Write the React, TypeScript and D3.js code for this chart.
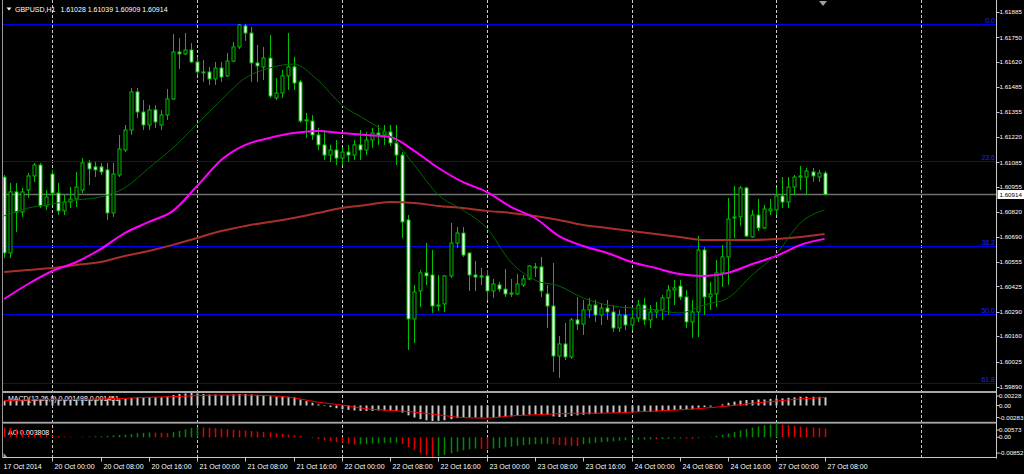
import React from "react";
import * as d3 from "d3";

// ---------- DATA ----------
const firstBar = -8; // 17 Oct 16:00 (index 0 = 20 Oct 00:00)
const opens = [
  1.61007, 1.60603, 1.60928, 1.60821, 1.60938, 1.61013, 1.61071, 1.60853,
  1.61023, 1.60922, 1.60827, 1.60874, 1.60890, 1.60938, 1.61082, 1.61061, 1.61061, 1.61045, 1.60816, 1.61018,
  1.61151, 1.61257, 1.61460, 1.61353, 1.61284, 1.61364, 1.61284, 1.61337, 1.61422, 1.61672, 1.61662, 1.61683, 1.61619,
  1.61566, 1.61566, 1.61529, 1.61587, 1.61545, 1.61624, 1.61699, 1.61811, 1.61773, 1.61614, 1.61593, 1.61640, 1.61428, 1.61454, 1.61545, 1.61593, 1.61513,
  1.61311, 1.61305, 1.61231, 1.61178, 1.61124, 1.61151,
  1.61108, 1.61140, 1.61124, 1.61178, 1.61151, 1.61204, 1.61241, 1.61231, 1.61247, 1.61188,
  1.61124, 1.60779, 1.60252, 1.60401, 1.60497, 1.60486,
  1.60321, 1.60332, 1.60481, 1.60656, 1.60709, 1.60603, 1.60486, 1.60481, 1.60481,
  1.60401, 1.60433, 1.60411, 1.60390, 1.60385, 1.60433, 1.60465, 1.60529,
  1.60529, 1.60385, 1.60321, 1.60055, 1.60119, 1.60050, 1.60247,
  1.60225, 1.60300, 1.60326, 1.60273, 1.60310, 1.60289, 1.60204, 1.60273, 1.60220, 1.60257, 1.60326, 1.60247, 1.60289, 1.60300, 1.60364, 1.60406,
  1.60427, 1.60369, 1.60236, 1.60289, 1.60619, 1.60369, 1.60385, 1.60497, 1.60582,
  1.60789, 1.60795, 1.60949, 1.60688, 1.60805, 1.60736, 1.60827, 1.60832, 1.60906, 1.60874, 1.60954, 1.61007, 1.61007, 1.61034, 1.61007, 1.61028,
];
const highs = [
  1.61018, 1.60975, 1.60975, 1.60949, 1.61029, 1.61082, 1.61082, 1.60938,
  1.61045, 1.60975, 1.60912, 1.60954, 1.61034, 1.61108, 1.61098, 1.61087, 1.61082, 1.61082, 1.61082, 1.61231,
  1.61284, 1.61481, 1.61481, 1.61417, 1.61390, 1.61390, 1.61364, 1.61475, 1.61768, 1.61747, 1.61773, 1.61720, 1.61646,
  1.61630, 1.61593, 1.61619, 1.61619, 1.61667, 1.61726, 1.61821, 1.61821, 1.61805, 1.61710, 1.61699, 1.61763, 1.61534, 1.61577, 1.61773, 1.61646, 1.61523,
  1.61348, 1.61337, 1.61268, 1.61257, 1.61178, 1.61204,
  1.61162, 1.61178, 1.61204, 1.61257, 1.61247, 1.61268, 1.61284, 1.61284, 1.61284, 1.61284,
  1.61140, 1.60805, 1.60433, 1.60513, 1.60656, 1.60619,
  1.60486, 1.60486, 1.60763, 1.60741, 1.60741, 1.60603, 1.60560, 1.60523, 1.60513,
  1.60465, 1.60449, 1.60518, 1.60465, 1.60491, 1.60486, 1.60539, 1.60550,
  1.60582, 1.60433, 1.60550, 1.60161, 1.60231, 1.60257, 1.60369,
  1.60353, 1.60364, 1.60353, 1.60337, 1.60353, 1.60326, 1.60300, 1.60326, 1.60300, 1.60353, 1.60364, 1.60326, 1.60342, 1.60380, 1.60433, 1.60459,
  1.60459, 1.60406, 1.60353, 1.60693, 1.60635, 1.60449, 1.60566, 1.60646, 1.60896,
  1.60959, 1.60959, 1.60954, 1.60832, 1.60890, 1.60858, 1.60890, 1.60949, 1.61007, 1.61007, 1.61018, 1.61066, 1.61055, 1.61055, 1.61045, 1.61039,
];
const lows = [
  1.60576, 1.60576, 1.60715, 1.60795, 1.60896, 1.60981, 1.60842, 1.60832,
  1.60858, 1.60805, 1.60805, 1.60842, 1.60848, 1.60922, 1.60965, 1.61007, 1.61018, 1.60779, 1.60795, 1.61007,
  1.61140, 1.61231, 1.61321, 1.61257, 1.61257, 1.61268, 1.61257, 1.61311, 1.61417, 1.61582, 1.61656, 1.61614, 1.61550,
  1.61513, 1.61497, 1.61497, 1.61513, 1.61539, 1.61619, 1.61688, 1.61731, 1.61513, 1.61513, 1.61523, 1.61428, 1.61417, 1.61428, 1.61470, 1.61470, 1.61295,
  1.61215, 1.61204, 1.61151, 1.61098, 1.61087, 1.61071,
  1.61071, 1.61087, 1.61098, 1.61098, 1.61124, 1.61162, 1.61178, 1.61178, 1.61172, 1.61071,
  1.60683, 1.60087, 1.60124, 1.60316, 1.60433, 1.60284,
  1.60295, 1.60289, 1.60470, 1.60630, 1.60582, 1.60401, 1.60401, 1.60433, 1.60353,
  1.60364, 1.60396, 1.60369, 1.60369, 1.60380, 1.60422, 1.60459, 1.60475,
  1.60369, 1.60204, 1.59970, 1.59938, 1.60034, 1.60039, 1.60193,
  1.60167, 1.60257, 1.60236, 1.60220, 1.60247, 1.60183, 1.60183, 1.60193, 1.60193, 1.60236, 1.60220, 1.60204, 1.60257, 1.60247, 1.60273, 1.60326,
  1.60353, 1.60204, 1.60151, 1.60156, 1.60273, 1.60300, 1.60316, 1.60422, 1.60433,
  1.60683, 1.60747, 1.60688, 1.60683, 1.60720, 1.60731, 1.60805, 1.60805, 1.60842, 1.60842, 1.60912, 1.60938, 1.60912, 1.60981, 1.60981, 1.60909,
];
const closes = [
  1.60603, 1.60928, 1.60821, 1.60928, 1.61013, 1.61071, 1.60853, 1.60901,
  1.60922, 1.60827, 1.60874, 1.60890, 1.60954, 1.61082, 1.61050, 1.61045, 1.61034, 1.60816, 1.61023, 1.61156,
  1.61257, 1.61460, 1.61353, 1.61284, 1.61364, 1.61300, 1.61337, 1.61422, 1.61672, 1.61662, 1.61683, 1.61619, 1.61566,
  1.61563, 1.61529, 1.61587, 1.61539, 1.61624, 1.61699, 1.61816, 1.61773, 1.61614, 1.61598, 1.61640, 1.61438, 1.61454, 1.61545, 1.61593, 1.61507, 1.61305,
  1.61308, 1.61231, 1.61178, 1.61124, 1.61151, 1.61108,
  1.61140, 1.61124, 1.61178, 1.61151, 1.61204, 1.61241, 1.61231, 1.61247, 1.61188, 1.61124,
  1.60768, 1.60252, 1.60396, 1.60497, 1.60481, 1.60321,
  1.60326, 1.60481, 1.60656, 1.60709, 1.60592, 1.60486, 1.60475, 1.60475, 1.60401,
  1.60438, 1.60411, 1.60385, 1.60388, 1.60438, 1.60465, 1.60534, 1.60526,
  1.60401, 1.60321, 1.60055, 1.60119, 1.60050, 1.60247, 1.60225,
  1.60300, 1.60326, 1.60273, 1.60310, 1.60289, 1.60204, 1.60273, 1.60220, 1.60257, 1.60326, 1.60247, 1.60289, 1.60300, 1.60364, 1.60406, 1.60417,
  1.60369, 1.60236, 1.60289, 1.60619, 1.60369, 1.60385, 1.60497, 1.60582, 1.60784,
  1.60795, 1.60949, 1.60693, 1.60805, 1.60736, 1.60837, 1.60837, 1.60906, 1.60874, 1.60954, 1.61007, 1.61013, 1.61039, 1.61013, 1.61029, 1.60914,
];

// moving averages, sampled every 4 bars starting at firstBar
const maStep = 4;
const maFast = [
  1.60800, 1.60842, 1.60864, 1.60885, 1.60901, 1.60949, 1.61055, 1.61162, 1.61289, 1.61417,
  1.61534, 1.61587, 1.61608, 1.61523, 1.61390, 1.61311, 1.61225, 1.61071, 1.60912, 1.60832,
  1.60736, 1.60555, 1.60459, 1.60427, 1.60364, 1.60326, 1.60310, 1.60300, 1.60284, 1.60326,
  1.60364, 1.60486, 1.60598, 1.60763, 1.60832,
];
const maMid = [
  1.60358, 1.60438, 1.60507, 1.60555, 1.60624, 1.60709, 1.60768, 1.60827, 1.60959, 1.61098,
  1.61178, 1.61215, 1.61241, 1.61252, 1.61241, 1.61231, 1.61220, 1.61146, 1.61055, 1.60981,
  1.60928, 1.60848, 1.60789, 1.60693, 1.60640, 1.60603, 1.60555, 1.60523, 1.60491, 1.60481,
  1.60497, 1.60544, 1.60587, 1.60646, 1.60678,
];
const maSlow = [
  1.60502, 1.60513, 1.60523, 1.60539, 1.60555, 1.60587, 1.60614, 1.60646, 1.60683, 1.60720,
  1.60747, 1.60768, 1.60789, 1.60816, 1.60842, 1.60858, 1.60874, 1.60869, 1.60853, 1.60842,
  1.60827, 1.60816, 1.60800, 1.60779, 1.60752, 1.60736, 1.60720, 1.60704, 1.60688, 1.60672,
  1.60672, 1.60672, 1.60678, 1.60688, 1.60704,
];

const macdHist = [
  0.0008, 0.0009, 0.0010, 0.0010, 0.0011, 0.0012, 0.0012, 0.0012,
  0.0011, 0.0010, 0.0010, 0.0010, 0.0010, 0.0011, 0.0011, 0.0011, 0.0011, 0.0011, 0.0010, 0.0011,
  0.0012, 0.0014, 0.0015, 0.0015, 0.0015, 0.0015, 0.0015, 0.0016, 0.0019, 0.0021, 0.0022, 0.00228, 0.0022,
  0.0021, 0.0020, 0.0020, 0.0019, 0.0019, 0.0020, 0.0021, 0.0021, 0.0020, 0.0019, 0.0019, 0.0017, 0.0016, 0.0016, 0.0016, 0.0015, 0.0011,
  0.0008, 0.0005, 0.0002, -0.0001, -0.0003, -0.0005,
  -0.0007, -0.0008, -0.0009, -0.0010, -0.0010, -0.0010, -0.0009, -0.0009, -0.0009, -0.0010,
  -0.0013, -0.0018, -0.0022, -0.0025, -0.0027, -0.00283,
  -0.0028, -0.0027, -0.0025, -0.0023, -0.0022, -0.0022, -0.0022, -0.0022, -0.0022,
  -0.0022, -0.0021, -0.0021, -0.0020, -0.0019, -0.0018, -0.0017, -0.0016,
  -0.0016, -0.0017, -0.0020, -0.0021, -0.0021, -0.0019, -0.0018,
  -0.0017, -0.0016, -0.0015, -0.0014, -0.0013, -0.0013, -0.0013, -0.0013, -0.0012, -0.0012, -0.0012, -0.0012, -0.0011, -0.0010, -0.0009, -0.0008,
  -0.0007, -0.0007, -0.0007, -0.0004, -0.0003, -0.0002, 0.0000, 0.0002, 0.0005,
  0.0007, 0.0009, 0.0010, 0.0010, 0.0011, 0.0011, 0.0012, 0.0013, 0.0013, 0.0014, 0.0015, 0.0016, 0.0016, 0.0016, 0.0016, 0.001498,
];
const macdSignal = [
  0.0009, 0.0010, 0.0011, 0.0011, 0.0012, 0.0013, 0.0015, 0.0016, 0.0018, 0.0019,
  0.0019, 0.0018, 0.0014, 0.0006, 0.0001, -0.0006, -0.0009, -0.0012, -0.0017, -0.0022,
  -0.0023, -0.0019, -0.0017, -0.0015, -0.0014, -0.0014, -0.0012, -0.0010, -0.0008, -0.0005,
  -0.0001, 0.0004, 0.0008, 0.0012, 0.001451,
];
const aoValues = [
  0.0042, 0.0040, 0.0036, 0.0030, 0.0024, 0.0018, 0.0013, 0.0010,
  0.0007, 0.0005, 0.0003, 0.0002, 0.0001, 0.0002,
  0.0003, 0.0004, 0.0005, 0.0006, 0.0008, 0.0010, 0.0012, 0.0014, 0.0017, 0.0019, 0.0021, 0.0020, 0.0019, 0.0018,
  0.0022, 0.0028, 0.0034, 0.0040, 0.0044,
  0.0043, 0.0041, 0.0039, 0.0037, 0.0035, 0.0033, 0.0031, 0.0029, 0.0027, 0.0025, 0.0023, 0.0021, 0.0018, 0.0015, 0.0012, 0.0009, 0.0005,
  0.0001, -0.0003, -0.0008, -0.0012, -0.0016, -0.0020, -0.0024, -0.0028, -0.0031,
  -0.0030, -0.0029, -0.0027, -0.0026, -0.0025, -0.0024, -0.0023,
  -0.0030, -0.0042, -0.0055, -0.0068, -0.0078, -0.00852,
  -0.0082, -0.0076, -0.0069, -0.0062, -0.0056, -0.0052, -0.0049,
  -0.0050, -0.0051,
  -0.0049, -0.0046, -0.0043, -0.0040, -0.0037, -0.0034, -0.0032, -0.0030, -0.0029, -0.0028,
  -0.0030, -0.0033, -0.0036, -0.0037, -0.0038,
  -0.0030, -0.0027, -0.0024, -0.0021, -0.0019, -0.0017, -0.0015, -0.0013, -0.0012, -0.0011, -0.0010, -0.0009, -0.0009, -0.0008, -0.0007, -0.0006,
  -0.0005, -0.0006, -0.0007, -0.0004, -0.0001, 0.0002, 0.0006, 0.0011, 0.0017,
  0.0023, 0.0030, 0.0036, 0.0042, 0.0047, 0.0052, 0.0055, 0.00573,
  0.0055, 0.0052, 0.0049, 0.0046, 0.0043, 0.0042, 0.0040, 0.003808,
];

const priceTicks = [
  "1.61885", "1.61750", "1.61620", "1.61485", "1.61355", "1.61220", "1.61085", "1.60955",
  "1.60820", "1.60690", "1.60555", "1.60425", "1.60290", "1.60160", "1.60025", "1.59890",
];
const fibLevels = [0, 23.6, 38.2, 50.0, 61.8];
const fibHigh = 1.61823;
const fibLow = 1.58732;
const lastPrice = 1.60914;
const timeLabelBars = [-8, 0, 8, 16, 24, 32, 40, 48, 56, 64, 72, 80, 88, 96, 104, 112, 120, 128];
const timeLabelTexts = [
  "17 Oct 2014", "20 Oct 00:00", "20 Oct 08:00", "20 Oct 16:00", "21 Oct 00:00", "21 Oct 08:00",
  "21 Oct 16:00", "22 Oct 00:00", "22 Oct 08:00", "22 Oct 16:00", "23 Oct 00:00", "23 Oct 08:00",
  "23 Oct 16:00", "24 Oct 00:00", "24 Oct 08:00", "24 Oct 16:00", "27 Oct 00:00", "27 Oct 08:00",
];
const daySeparatorBars = [0, 24, 48, 72, 96, 120, 144];
const macdAxis = [0.00228, 0, -0.00283];
const macdAxisText = ["0.00228", "0.00", "-0.00283"];
const aoAxis = [0.00573, 0, -0.00852];
const aoAxisText = ["0.00573", "0.00", "-0.00852"];

// ---------- CHART ----------
const FONT = "'Liberation Sans', Arial, sans-serif";
const CANDLE = "#00c000";

export default function App() {
  const W = 1024, H = 474;
  const left = 3, right = 997;
  const mainBottom = 391;
  const bottomAxis = 458;
  const axisFont = 6.2;

  const x = d3.scaleLinear().domain([0, 120]).range([52.3, 776.3]);
  const yMain = d3.scaleLinear().domain([1.5989, 1.61885]).range([387, 12]);
  const yMacd = d3.scaleLinear().domain([-0.00283, 0.00228]).range([421, 393]);
  const yAo = d3.scaleLinear().domain([-0.00852, 0.00573]).range([457, 424]);

  const px = (i: number) => Math.round(x(i)) + 0.5;
  const maLine = (vals: number[]) =>
    d3.line<number>()
      .x((_, k) => x(firstBar + k * maStep))
      .y((v) => yMain(v))
      .curve(d3.curveMonotoneX)(vals) || "";
  const sigLine = d3.line<number>()
    .x((_, k) => x(firstBar + k * maStep))
    .y((v) => yMacd(v))
    .curve(d3.curveMonotoneX)(macdSignal) || "";

  const fibPrice = (l: number) => fibHigh - (fibHigh - fibLow) * l / 100;
  const macdOff = [3, 0, -3.5];
  const aoOff = [6, 0, -4];

  return (
    <svg width={W} height={H} style={{ position: "absolute", left: 0, top: 0, display: "block", background: "#000" }}
      fontFamily={FONT} fontSize={7}>
      <defs>
        <clipPath id="mainClip"><rect x={left + 0.5} y={0} width={right - left - 1} height={mainBottom} /></clipPath>
        <clipPath id="subClip"><rect x={left + 0.5} y={392} width={right - left - 1} height={66} /></clipPath>
      </defs>
      <rect x={0} y={0} width={W} height={H} fill="#000" />

      {/* day separators */}
      {daySeparatorBars.map((b) => (
        <line key={"d" + b} x1={px(b)} x2={px(b)} y1={0} y2={bottomAxis} stroke="#c8c8c8" strokeDasharray="3 2" />
      ))}

      {/* fibonacci */}
      {fibLevels.map((l) => {
        const y = Math.round(yMain(fibPrice(l))) + 0.5;
        return (
          <g key={"f" + l}>
            <line x1={left} x2={right} y1={y} y2={y} stroke="#0000f0" strokeWidth={1} />
            <text x={995} y={y - 2} fill="#2020ff" textAnchor="end">{l.toFixed(1)}</text>
          </g>
        );
      })}

      {/* bid line */}
      <line x1={left} x2={right} y1={yMain(lastPrice)} y2={yMain(lastPrice)} stroke="#707070" strokeWidth={1.5} />

      <g clipPath="url(#mainClip)">
        {opens.map((o, k) => {
          const i = firstBar + k;
          const cx = px(i);
          const c = closes[k];
          const yO = yMain(o), yC = yMain(c);
          const top = Math.min(yO, yC);
          const h = Math.max(Math.abs(yO - yC), 1);
          const bull = c >= o;
          return (
            <g key={"c" + k}>
              <line x1={cx} x2={cx} y1={yMain(highs[k])} y2={yMain(lows[k])} stroke={CANDLE} />
              <rect x={cx - 1.5} y={top} width={3} height={h} fill={bull ? "#000" : "#fff"} stroke={CANDLE} />
            </g>
          );
        })}
        <path d={maLine(maSlow)} fill="none" stroke="#a8302a" strokeWidth={2} />
        <path d={maLine(maMid)} fill="none" stroke="#ff00ff" strokeWidth={2} />
        <path d={maLine(maFast)} fill="none" stroke="#006400" strokeWidth={1} />
      </g>

      {/* title */}
      <polygon points="6.5,7.5 11.5,7.5 9,10.5" fill="#fff" />
      <text x={15} y={11.5} fill="#fff">GBPUSD,H1</text>
      <text x={60.5} y={11.5} fill="#fff">1.61028 1.61039 1.60909 1.60914</text>
      <polygon points="819,1 827,1 823,6" fill="#a0a0a0" />

      {/* panel separators */}
      <rect x={left} y={391} width={right - left} height={2} fill="#a8a8a8" />
      <rect x={left} y={421.8} width={right - left} height={1.8} fill="#a8a8a8" />

      {/* MACD */}
      <text x={8} y={401} fill="#fff">MACD(12,26,9) 0.001498 0.001451</text>
      <g clipPath="url(#subClip)">
        {macdHist.map((v, k) => {
          const cx = px(firstBar + k);
          const y0 = yMacd(0), y1 = yMacd(v);
          return <rect key={"m" + k} x={cx - 1} y={Math.min(y0, y1)} width={2} height={Math.abs(y1 - y0)} fill="#c8c8c8" />;
        })}
        <path d={sigLine} fill="none" stroke="#ff0000" strokeWidth={1} />
      </g>

      {/* AO */}
      <text x={8} y={434.5} fill="#fff">AO 0.003808</text>
      <g clipPath="url(#subClip)">
        {aoValues.map((v, k) => {
          const cx = px(firstBar + k);
          const y0 = yAo(0), y1 = yAo(v);
          const up = k === 0 ? false : v > aoValues[k - 1];
          return <rect key={"a" + k} x={cx - 0.75} y={Math.min(y0, y1)} width={1.5} height={Math.abs(y1 - y0)} fill={up ? "#008a00" : "#e00000"} />;
        })}
      </g>
      <polygon points="3.5,453 3.5,458 8,458" fill="#8fa0b8" />

      {/* frame */}
      <line x1={left - 0.5} x2={left - 0.5} y1={0} y2={bottomAxis} stroke="#9a9a9a" />
      <line x1={right - 0.5} x2={right - 0.5} y1={0} y2={bottomAxis + 0.5} stroke="#c8c8c8" />
      <line x1={left} x2={right} y1={bottomAxis - 0.5} y2={bottomAxis - 0.5} stroke="#c8c8c8" />

      {/* price axis */}
      <g fontSize={axisFont}>
        {priceTicks.map((t) => {
          const y = yMain(+t);
          return (
            <g key={"p" + t}>
              <line x1={right} x2={right + 2.5} y1={Math.round(y) + 0.5} y2={Math.round(y) + 0.5} stroke="#c8c8c8" />
              <text x={999.5} y={y} dy="0.35em" fill="#fff">{t}</text>
            </g>
          );
        })}
        <rect x={997.5} y={yMain(lastPrice) - 4.5} width={30} height={9} fill="#fff" />
        <text x={999.5} y={yMain(lastPrice)} dy="0.35em" fill="#000">{lastPrice.toFixed(5)}</text>

        {macdAxis.map((v, k) => (
          <g key={"ma" + k}>
            <line x1={right} x2={right + 2.5} y1={yMacd(v) + macdOff[k]} y2={yMacd(v) + macdOff[k]} stroke="#c8c8c8" />
            <text x={999} y={yMacd(v) + macdOff[k]} dy="0.35em" fill="#fff">{macdAxisText[k]}</text>
          </g>
        ))}
        {aoAxis.map((v, k) => (
          <g key={"aa" + k}>
            <line x1={right} x2={right + 2.5} y1={yAo(v) + aoOff[k]} y2={yAo(v) + aoOff[k]} stroke="#c8c8c8" />
            <text x={999} y={yAo(v) + aoOff[k]} dy="0.35em" fill="#fff">{aoAxisText[k]}</text>
          </g>
        ))}
      </g>

      {/* time axis */}
      {timeLabelBars.map((b, k) => {
        const tx = k === 0 ? left : px(b);
        return (
          <g key={"t" + k}>
            {k > 0 && <line x1={tx} x2={tx} y1={bottomAxis} y2={bottomAxis + 3.5} stroke="#c8c8c8" />}
            <text x={k === 0 ? left + 0.5 : tx + 2} y={468.5} fill="#fff">{timeLabelTexts[k]}</text>
          </g>
        );
      })}
    </svg>
  );
}
